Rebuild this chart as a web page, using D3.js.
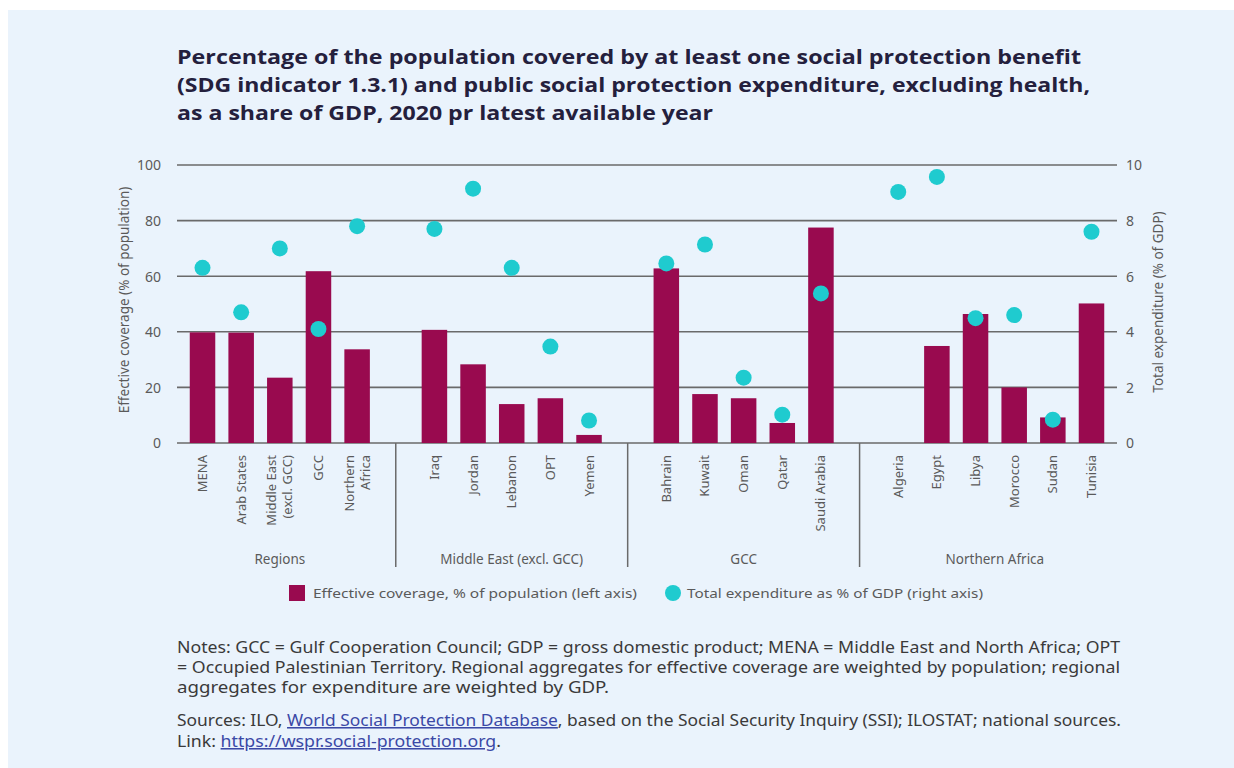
<!DOCTYPE html>
<html>
<head>
<meta charset="utf-8">
<script src="https://cdn.jsdelivr.net/npm/d3@7"></script>
<style>
  html, body { margin: 0; padding: 0; background: #ffffff; }
  svg { display: block; }
</style>
</head>
<body>
<svg id="chart" width="1234" height="768"></svg>
<script>
// ---------- data ----------
const categories = ["MENA", "Arab States", "Middle East\n(excl. GCC)", "GCC", "Northern\nAfrica",
  "Iraq", "Jordan", "Lebanon", "OPT", "Yemen",
  "Bahrain", "Kuwait", "Oman", "Qatar", "Saudi Arabia",
  "Algeria", "Egypt", "Libya", "Morocco", "Sudan", "Tunisia"];
const groupOf = ["Regions","Regions","Regions","Regions","Regions",
  "Middle East (excl. GCC)","Middle East (excl. GCC)","Middle East (excl. GCC)","Middle East (excl. GCC)","Middle East (excl. GCC)",
  "GCC","GCC","GCC","GCC","GCC",
  "Northern Africa","Northern Africa","Northern Africa","Northern Africa","Northern Africa","Northern Africa"];
const groups = ["Regions", "Middle East (excl. GCC)", "GCC", "Northern Africa"];
const coverage = [39.8, 39.7, 23.5, 61.8, 33.7,
  40.7, 28.3, 14.0, 16.1, 2.9,
  62.8, 17.6, 16.1, 7.2, 77.5,
  null, 34.9, 46.4, 20.0, 9.2, 50.2];
const expenditure = [6.3, 4.7, 7.0, 4.1, 7.8,
  7.7, 9.15, 6.3, 3.47, 0.81,
  6.46, 7.14, 2.35, 1.02, 5.38,
  9.03, 9.57, 4.49, 4.6, 0.84, 7.6];
const leftTicks = [0, 20, 40, 60, 80, 100];
const rightTicks = [0, 2, 4, 6, 8, 10];
const titleLines = [
  "Percentage of the population covered by at least one social protection benefit",
  "(SDG indicator 1.3.1) and public social protection expenditure, excluding health,",
  "as a share of GDP, 2020 pr latest available year"];
const legendLabels = ["Effective coverage, % of population (left axis)",
  "Total expenditure as % of GDP (right axis)"];
const leftTitle = "Effective coverage (% of population)";
const rightTitle = "Total expenditure (% of GDP)";

// ---------- styles ----------
const BAR = "#990a4f", DOT = "#1fcbcf", GRID = "#6a6a6a", TXT = "#5a5a5a";
const FONT = "'Noto Sans', 'Open Sans', sans-serif";

const svg = d3.select("#chart");
svg.append("rect").attr("x", 0).attr("y", 0).attr("width", 1234).attr("height", 768).attr("fill", "#ffffff");
svg.append("rect").attr("x", 8).attr("y", 10).attr("width", 1226).attr("height", 758).attr("fill", "#eaf3fc");

// title
const titleWidths = [904, 913, 536];
titleLines.forEach((t, i) => {
  svg.append("text").attr("x", 177).attr("y", 64 + i * 28)
    .attr("font-family", "'Open Sans', sans-serif").attr("font-weight", 700)
    .attr("font-size", 20).attr("fill", "#24203d")
    .attr("textLength", titleWidths[i]).attr("lengthAdjust", "spacingAndGlyphs")
    .text(t);
});

// slots: groups separated by an empty slot
const slots = [];
let gi = 0;
categories.forEach((c, i) => {
  if (i > 0 && groupOf[i] !== groupOf[i - 1]) { slots.push("__gap" + gi); gi++; }
  slots.push(c);
});

const x = d3.scaleBand().domain(slots).range([177, 1117]).paddingInner(0.34).paddingOuter(0.33);
const yL = d3.scaleLinear().domain([0, 100]).range([443, 165]);
const yR = d3.scaleLinear().domain([0, 10]).range([443, 165]);

const plot = svg.append("g");

// gridlines
plot.selectAll("line.grid").data(leftTicks).join("line")
  .attr("x1", 177).attr("x2", 1117)
  .attr("y1", d => yL(d)).attr("y2", d => yL(d))
  .attr("stroke", GRID).attr("stroke-width", 1.6);

// left axis
const axL = d3.axisLeft(yL).tickValues(leftTicks).tickSize(0).tickPadding(0);
const gL = svg.append("g").attr("transform", "translate(161,0)").call(axL);
gL.select(".domain").remove();
gL.selectAll("text").attr("font-family", FONT).attr("font-size", 14).attr("fill", TXT).attr("dy", "0.35em");

// right axis
const axR = d3.axisRight(yR).tickValues(rightTicks).tickSize(0).tickPadding(0);
const gR = svg.append("g").attr("transform", "translate(1126,0)").call(axR);
gR.select(".domain").remove();
gR.selectAll("text").attr("font-family", FONT).attr("font-size", 14).attr("fill", TXT).attr("dy", "0.35em");

// axis titles
svg.append("text").attr("transform", "translate(129,300) rotate(-90)")
  .attr("text-anchor", "middle").attr("font-family", FONT).attr("font-size", 13.5).attr("fill", TXT)
  .text(leftTitle);
svg.append("text").attr("transform", "translate(1163,302) rotate(-90)")
  .attr("text-anchor", "middle").attr("font-family", FONT).attr("font-size", 13.5).attr("fill", TXT)
  .text(rightTitle);

// bars
const rows = categories.map((c, i) => ({ c, cov: coverage[i], exp: expenditure[i], g: groupOf[i] }));
plot.selectAll("rect.bar").data(rows.filter(d => d.cov != null)).join("rect")
  .attr("x", d => x(d.c)).attr("width", x.bandwidth())
  .attr("y", d => yL(d.cov)).attr("height", d => yL(0) - yL(d.cov))
  .attr("fill", BAR);

// dots
plot.selectAll("circle.dot").data(rows.filter(d => d.exp != null)).join("circle")
  .attr("cx", d => x(d.c) + x.bandwidth() / 2).attr("cy", d => yR(d.exp))
  .attr("r", 8).attr("fill", DOT);

// x tick labels (rotated)
rows.forEach(d => {
  const lines = d.c.split("\n");
  const cx = x(d.c) + x.bandwidth() / 2;
  const lh = 16;
  lines.forEach((ln, k) => {
    const off = (k - (lines.length - 1) / 2) * lh;
    svg.append("text")
      .attr("transform", `translate(${cx + off + 4.5},455) rotate(-90)`)
      .attr("text-anchor", "end").attr("font-family", FONT).attr("font-size", 13).attr("fill", TXT)
      .text(ln);
  });
});

// group separators and labels
slots.forEach(s => {
  if (s.startsWith("__gap")) {
    const sx = x(s) + x.bandwidth() / 2;
    svg.append("line").attr("x1", sx).attr("x2", sx).attr("y1", 443).attr("y2", 567)
      .attr("stroke", GRID).attr("stroke-width", 1.5);
  }
});
groups.forEach(g => {
  const members = categories.filter((c, i) => groupOf[i] === g);
  const x0 = x(members[0]), x1 = x(members[members.length - 1]) + x.bandwidth();
  svg.append("text").attr("x", (x0 + x1) / 2).attr("y", 564)
    .attr("text-anchor", "middle").attr("font-family", FONT).attr("font-size", 13.5).attr("fill", TXT)
    .text(g);
});

// legend
svg.append("rect").attr("x", 289).attr("y", 585).attr("width", 16).attr("height", 16).attr("fill", BAR);
svg.append("text").attr("x", 313).attr("y", 598).attr("font-family", FONT).attr("font-size", 13)
  .attr("fill", TXT).attr("textLength", 324).attr("lengthAdjust", "spacingAndGlyphs").text(legendLabels[0]);
svg.append("circle").attr("cx", 673).attr("cy", 593).attr("r", 8).attr("fill", DOT);
svg.append("text").attr("x", 687).attr("y", 598).attr("font-family", FONT).attr("font-size", 13)
  .attr("fill", TXT).attr("textLength", 296).attr("lengthAdjust", "spacingAndGlyphs").text(legendLabels[1]);

// notes
const NOTE = "#3a3a3a", LINK = "#3b49a6";
const noteLines = [
  [["Notes: GCC = Gulf Cooperation Council; GDP = gross domestic product; MENA = Middle East and North Africa; OPT", false]],
  [["= Occupied Palestinian Territory. Regional aggregates for effective coverage are weighted by population; regional", false]],
  [["aggregates for expenditure are weighted by GDP.", false]],
  [["Sources: ILO, ", false], ["World Social Protection Database", true], [", based on the Social Security Inquiry (SSI); ILOSTAT; national sources.", false]],
  [["Link: ", false], ["https://wspr.social-protection.org", true], [".", false]]
];
const noteY = [653, 673, 693, 726, 747];
const noteW = [943, 943, 432, 944, 324];
noteLines.forEach((parts, i) => {
  const t = svg.append("text").attr("x", 177).attr("y", noteY[i])
    .attr("font-family", FONT).attr("font-size", 15.5).attr("fill", NOTE)
    .attr("textLength", noteW[i]).attr("lengthAdjust", "spacingAndGlyphs");
  parts.forEach(([s, link]) => {
    const ts = t.append("tspan").text(s);
    if (link) ts.attr("fill", LINK).style("text-decoration", "underline");
  });
});
</script>
</body>
</html>
